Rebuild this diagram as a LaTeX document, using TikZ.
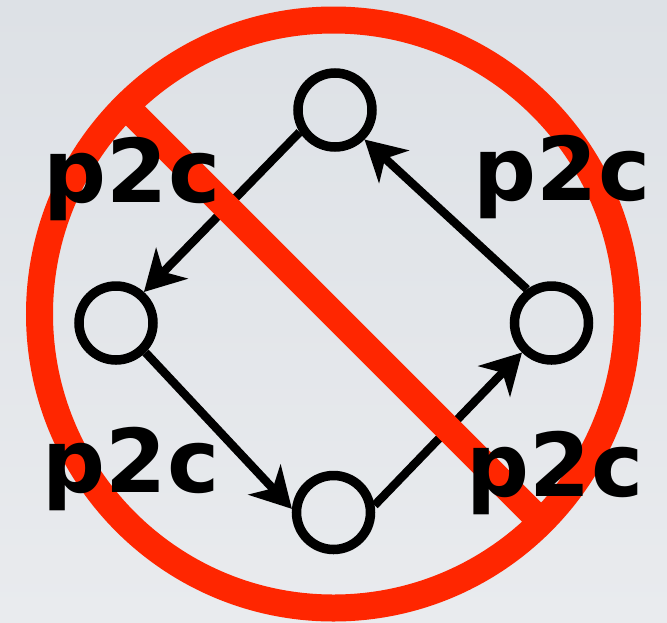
\documentclass[tikz,border=0pt]{standalone}
\usepackage{fontspec}
\setmainfont{DejaVu Sans}
\usetikzlibrary{arrows.meta,calc}
\definecolor{signred}{RGB}{255,38,0}
\definecolor{bgtop}{RGB}{221,225,230}
\definecolor{bgbottom}{RGB}{233,235,238}

\begin{document}
\begin{tikzpicture}[x=1pt, y=-1pt,
  vertex/.style={draw=black, circle, line width=9.5pt, minimum size=74pt, inner sep=0pt},
  arrow/.style={-{Stealth[length=40pt, width=44pt, inset=12pt]}, line width=8.5pt, draw=black},
  ban/.style={draw=signred, line width=27pt},
  tag/.style={font=\fontsize{88}{88}\selectfont\bfseries, anchor=base, inner sep=0pt}]
\shade[top color=bgtop, bottom color=bgbottom] (0,0) rectangle (667,622);
\useasboundingbox (0,0) rectangle (667,622);
% the cycle
\node[vertex] (top) at (335,110) {};
\node[vertex] (left) at (116,323) {};
\node[vertex] (bottom) at (333.5,512.5) {};
\node[vertex] (right) at (551.5,323) {};
\draw[arrow] (top.212)--(left.48); \draw[arrow] (left.-45)--(bottom.175);
\draw[arrow] (bottom.10)--(right.225); \draw[arrow] (right.126)--(top.-45);
% prohibition sign on top
\coordinate (ring) at (333.5,314);
\draw[ban] (ring) circle[radius=294];
\draw[ban] ($(ring)+(-203,-203)$) -- ($(ring)+(203,203)$);
\node[tag] (tl) at (132,202) {p2c};
\node[tag] (tr) at (562,200) {p2c};
\node[tag] (bl) at (131,492) {p2c};
\node[tag] (br) at (555,496) {p2c};
\end{tikzpicture}
\end{document}
